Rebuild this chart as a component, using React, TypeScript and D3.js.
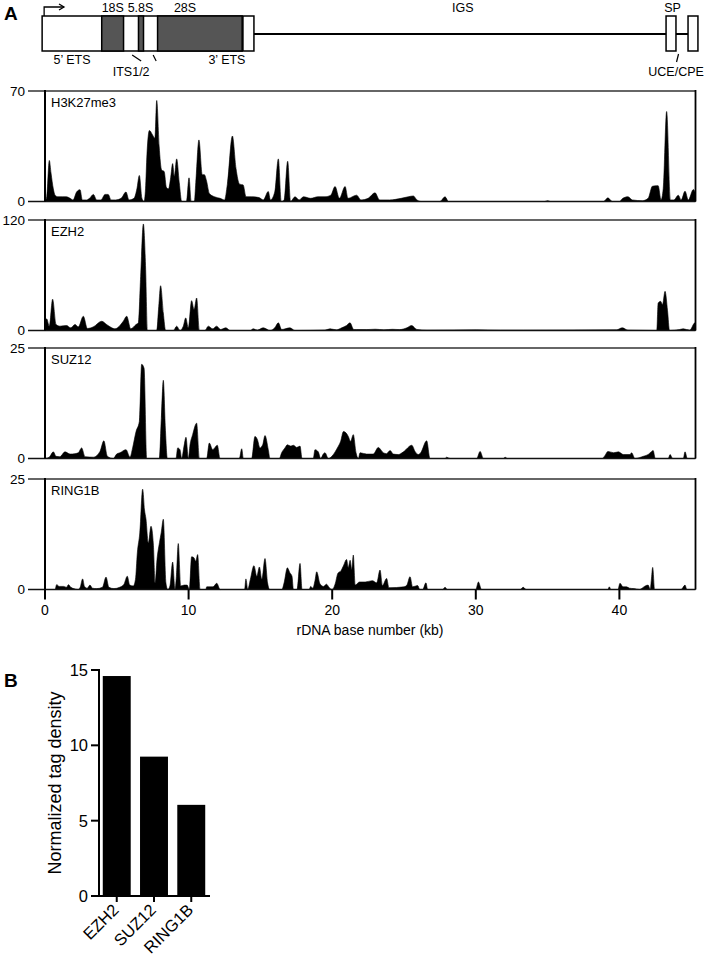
import React from 'react';
import * as d3 from 'd3';

type P = [number, number];

const H3K27ME3_PROFILE: P[] = [[0,0],[0.12,3],[0.3,26],[0.42,18],[0.58,8],[0.7,4],[0.9,3],[1.2,3],[1.5,3],[1.75,2],[1.95,1],[2.2,6],[2.44,7.5],[2.6,1],[2.9,1],[3.1,2],[3.37,4.5],[3.6,1],[3.9,1],[4.18,4.5],[4.4,4.5],[4.6,1],[4.9,1],[5.3,2],[5.64,6],[5.85,1],[6.2,2],[6.4,8],[6.57,16.5],[6.75,2],[6.9,0],[7.0,8],[7.1,30],[7.27,45],[7.5,42],[7.65,40],[7.78,64],[7.95,35],[8.12,20],[8.3,19],[8.45,9],[8.6,8],[8.75,15],[8.89,24],[9.0,16],[9.17,27],[9.35,12],[9.52,0],[9.85,0],[10.03,15],[10.18,0],[10.4,0],[10.5,12],[10.72,39],[10.95,17],[11.1,17],[11.25,13],[11.45,5],[11.8,3],[12.2,2],[12.5,1],[12.7,11],[13.05,41.5],[13.3,21],[13.55,11],[13.8,10.5],[14.0,3],[14.4,3],[14.9,2.5],[15.2,1],[15.55,6.3],[15.7,1],[16.0,6],[16.25,27],[16.45,0],[16.65,1],[16.9,25.5],[17.1,0],[17.41,3],[17.7,1],[18.0,3],[18.5,2],[19.0,3],[19.5,3],[19.9,4],[20.2,9.5],[20.5,2],[20.9,9.5],[21.1,2],[21.7,4],[22.0,1],[22.5,2],[22.98,5.5],[23.3,1],[24.0,1],[24.8,2],[25.3,3],[25.65,3.5],[25.9,1],[26.2,0],[27.5,0],[27.86,3],[28.1,0],[34.8,0],[35.0,0.5],[35.2,0],[38.9,0],[39.2,2.3],[39.5,0],[40.0,0],[40.2,1.8],[40.6,3],[40.9,1],[41.6,0.5],[42.0,2],[42.3,9.7],[42.7,10],[42.9,1],[43.05,8],[43.29,57],[43.55,1],[43.8,1],[44.1,4],[44.3,1],[44.57,6.5],[44.8,1],[45.15,7.6],[45.3,5]];

const EZH2_PROFILE: P[] = [[0,12],[0.12,12.6],[0.3,4.7],[0.53,34],[0.77,6.5],[1.04,4.7],[1.5,5.4],[1.79,2.9],[2.09,6.5],[2.32,4],[2.67,15.5],[2.95,2.2],[3.37,4],[3.95,10],[4.29,6.5],[4.53,4],[4.87,1.8],[5.45,10],[5.69,15.5],[5.97,1.8],[6.34,6.5],[6.5,8.3],[6.66,58.7],[6.85,115.7],[7.01,66],[7.13,0],[7.78,0],[7.92,26],[8.05,48.6],[8.24,19],[8.4,0],[8.94,0],[9.17,4.7],[9.4,0],[9.63,4.7],[9.8,13.7],[9.98,2.9],[10.21,32.4],[10.38,22.7],[10.56,35.3],[10.75,0],[11.14,0],[11.37,4.7],[11.68,1.8],[11.95,4.7],[12.23,1.1],[12.6,2.9],[12.88,0],[14.3,0],[14.5,1.8],[14.8,0.5],[15.2,2.9],[15.67,0],[16.0,2.9],[16.25,8.3],[16.48,1.1],[17.06,2.9],[17.4,0],[19.5,0.5],[19.85,1.8],[20.3,0.7],[20.66,2.9],[21.0,5.4],[21.24,8.3],[21.5,1.1],[21.7,1.1],[22.4,1],[23.0,1.4],[23.6,0.8],[24.2,1.3],[24.7,1],[25.2,2.9],[25.53,5.4],[25.9,1.1],[26.6,0.4],[30.06,0.7],[31.7,0.4],[33.3,0.4],[39.8,0.7],[40.2,2.9],[40.6,0.4],[42.6,0],[42.7,30],[42.87,31.7],[43.0,28],[43.18,42.5],[43.35,22],[43.49,0],[44.2,1.1],[44.45,1.8],[44.9,0.4],[45.26,8.3],[45.3,8]];

const SUZ12_PROFILE: P[] = [[0,0],[0.3,0.3],[0.58,1.5],[0.77,0.5],[1.04,0.4],[1.39,1.5],[1.74,1],[2.09,1.1],[2.32,1.3],[2.55,2.4],[2.79,0.4],[3.37,0.3],[3.83,1.6],[4.1,4],[4.34,0.5],[4.76,0],[4.99,1],[5.22,1.3],[5.64,2],[5.92,0.3],[6.1,2.4],[6.34,6.1],[6.57,8.4],[6.73,21.3],[6.9,20.4],[7.08,0],[7.96,0],[8.1,9.1],[8.24,17.7],[8.38,6.9],[8.52,0],[9.12,0],[9.24,2.4],[9.4,2],[9.52,0],[9.68,2.8],[9.82,4.8],[9.98,0],[10.1,3.1],[10.28,5.4],[10.56,8],[10.75,0],[11.26,0],[11.44,3.5],[11.68,2],[12.0,3],[12.19,0],[13.53,0],[13.7,2.2],[13.81,0],[14.39,0],[14.62,5],[14.79,4.3],[14.97,2.4],[15.16,3.1],[15.32,5.2],[15.55,2],[15.67,0],[16.32,0],[16.48,1.3],[16.71,2.4],[16.88,3.1],[17.11,2.8],[17.29,3],[17.53,2.5],[17.76,2.8],[17.9,0],[18.68,0],[18.8,2],[19.03,1.5],[19.2,0],[19.38,1],[19.5,1.3],[19.73,0],[20.08,0.9],[20.36,2.4],[20.59,3.9],[20.78,6.1],[20.96,5.8],[21.12,5],[21.28,3.9],[21.47,5.4],[21.66,1.3],[21.82,0],[21.94,1.3],[22.4,1],[22.86,1],[23.21,2.5],[23.56,1.3],[23.79,1.1],[24.03,1.8],[24.26,1],[24.61,0.9],[24.96,1.5],[25.54,3],[25.77,1.6],[26.0,0.9],[26.16,1.3],[26.58,4],[26.81,0],[27.86,0],[27.97,0.3],[28.2,0],[30.06,0],[30.3,1.6],[30.53,0],[31.92,0],[32.04,0.3],[32.2,0],[38.8,0],[39.0,0.7],[39.2,1.6],[39.6,1.3],[39.93,1.5],[40.27,0.9],[40.74,0.9],[40.85,1.3],[41.08,0],[41.67,0.5],[42.0,0.9],[42.25,1.6],[42.35,1.8],[42.5,0],[43.4,0],[43.53,0.9],[43.71,0],[44.45,0],[44.57,1.5],[44.73,0],[45.3,0]];

const RING1B_PROFILE: P[] = [[0,0],[0.7,0],[0.81,1.1],[1.0,0.7],[1.3,0.7],[1.5,0.5],[1.63,1.1],[1.8,0.5],[2.0,0.2],[2.3,0],[2.45,0.5],[2.62,2.4],[2.75,0.7],[2.95,0.3],[3.13,1],[3.3,0.3],[3.6,0.2],[4.0,0.5],[4.25,2.8],[4.45,0.5],[4.8,0.2],[5.2,0.5],[5.5,1.2],[5.73,3],[5.9,1],[6.15,0.8],[6.3,2.3],[6.43,8.3],[6.6,12.8],[6.8,22.7],[6.93,18],[7.03,16],[7.2,10.5],[7.38,14.3],[7.55,10],[7.67,1.5],[7.8,6.8],[7.97,10.6],[8.1,13],[8.24,15.9],[8.42,1.5],[8.55,0],[8.7,0.8],[8.89,6.2],[9.05,0],[9.15,3],[9.28,10.4],[9.45,0.8],[9.7,1],[9.9,1],[10.05,0],[10.21,7.4],[10.37,7.2],[10.5,6.4],[10.63,7.9],[10.8,0],[11.2,0],[11.26,0.6],[11.7,0.6],[11.96,1.4],[12.2,0],[13.9,0],[13.99,2.4],[14.12,0],[14.3,2.3],[14.55,5.4],[14.75,3],[14.93,5.1],[15.1,2.3],[15.32,7],[15.5,1.5],[15.65,0],[16.5,0],[16.65,1.5],[16.88,4.9],[17.05,3.8],[17.2,3],[17.3,0],[17.55,0],[17.76,5.9],[17.9,0],[18.4,0],[18.5,0.7],[18.65,0.3],[18.8,2],[18.92,4],[19.15,1.3],[19.4,0.7],[19.6,1.2],[19.8,0.4],[20.0,0],[20.2,1.2],[20.4,3.7],[20.6,4.2],[20.8,5.5],[21.0,6.8],[21.12,5],[21.25,6.6],[21.36,4.5],[21.47,7.8],[21.6,1],[21.9,1.7],[22.3,1.7],[22.8,2],[23.1,1.5],[23.33,4.4],[23.5,0.9],[23.79,2.5],[23.95,0.4],[25.0,0.6],[25.2,1],[25.42,2.9],[25.6,0.6],[25.95,0.9],[26.1,0],[26.3,0],[26.53,1.5],[26.65,0],[27.7,0],[27.86,0.5],[28.0,0],[30.0,0],[30.18,1.7],[30.4,0],[33.1,0],[33.3,0.5],[33.5,0],[39.2,0],[39.3,0.6],[39.4,0],[39.9,0],[40.04,1.4],[40.25,0.6],[40.5,0.6],[40.7,0.3],[41.0,0.2],[41.4,0],[41.8,0.8],[42.0,1],[42.15,0],[42.22,2],[42.32,5],[42.45,0],[44.3,0],[44.57,1],[44.7,0],[45.3,0]];

const TRACK_NAMES = ['H3K27me3', 'EZH2', 'SUZ12', 'RING1B'];
const TRACK_PROFILES = [H3K27ME3_PROFILE, EZH2_PROFILE, SUZ12_PROFILE, RING1B_PROFILE];
const TRACK_MAX = [70, 120, 25, 25];
const X_TICKS = [0, 10, 20, 30, 40];
const X_DOMAIN: [number, number] = [0, 45.3];

const BAR_CATEGORIES = ['EZH2', 'SUZ12', 'RING1B'];
const BAR_VALUES = [14.6, 9.25, 6.05];
const BAR_TICKS = [0, 5, 10, 15];

// rDNA unit features (kb)
const GENE_BOX: [number, number] = [-0.2, 14.55];
const GENE_DARK: [number, number][] = [[3.95, 5.47], [6.51, 6.86], [7.84, 13.73]];
const SP_BOXES: [number, number][] = [[43.25, 43.94], [44.78, 45.47]];
const LABELS_ABOVE: [string, number][] = [['18S', 4.72], ['5.8S', 6.65], ['28S', 9.75], ['IGS', 29.1], ['SP', 43.7]];
const LABELS_BELOW: [string, number][] = [["5\u2019 ETS", 1.88], ["3\u2019 ETS", 12.67]];
const LABELS_LOW: [string, number][] = [['ITS1/2', 6.0], ['UCE/CPE', 43.95]];

const FONT = '"Liberation Sans", Arial, Helvetica, sans-serif';

export default function App() {
  const x = d3.scaleLinear().domain(X_DOMAIN).range([45, 695.5]);
  const panelTops = [91, 220, 348, 479];
  const panelH = 110.5;
  const tickX0 = 28;
  const right = x(X_DOMAIN[1]);

  const gTop = 16, gBot = 51, gMid = 34;

  const by = d3.scaleLinear().domain([0, 15]).range([896, 670]);
  const bx = d3.scaleBand().domain(BAR_CATEGORIES).range([98, 210]).paddingInner(0.25).paddingOuter(0.128);

  return (
    <svg width={714} height={960} style={{ position: 'absolute', left: 0, top: 0, background: '#fff' }} fontFamily={FONT}>
      <rect x={0} y={0} width={714} height={960} fill="#fff" />
      <text x={4} y={20} fontSize={19} fontWeight="bold">A</text>

      <line x1={x(GENE_BOX[1])} x2={x(SP_BOXES[1][0])} y1={gMid} y2={gMid} stroke="#000" strokeWidth={2} />
      <rect x={x(GENE_BOX[0])} y={gTop} width={x(GENE_BOX[1]) - x(GENE_BOX[0])} height={gBot - gTop} fill="#fff" stroke="#000" strokeWidth={1.5} />
      {GENE_DARK.map((d, i) => (
        <rect key={i} x={x(d[0])} y={gTop} width={x(d[1]) - x(d[0])} height={gBot - gTop} fill="#555" stroke="#000" strokeWidth={1.5} />
      ))}
      <line x1={x(GENE_BOX[1]) - 11} x2={x(GENE_BOX[1]) - 11} y1={gTop} y2={gBot} stroke="#000" strokeWidth={1.5} />
      {SP_BOXES.map((d, i) => (
        <rect key={i} x={x(d[0])} y={gTop} width={x(d[1]) - x(d[0])} height={gBot - gTop} fill="#fff" stroke="#000" strokeWidth={1.5} />
      ))}
      <path d={`M${x(GENE_BOX[0]) + 2},${gTop} V7 H64`} fill="none" stroke="#000" strokeWidth={1.3} />
      <path d="M59,4 L64,7 L59,10" fill="none" stroke="#000" strokeWidth={1.3} />
      {LABELS_ABOVE.map(([t, k]) => (
        <text key={t} x={x(k)} y={12} fontSize={12.5} textAnchor="middle">{t}</text>
      ))}
      {LABELS_BELOW.map(([t, k]) => (
        <text key={t} x={x(k)} y={64} fontSize={12.5} textAnchor="middle">{t}</text>
      ))}
      {LABELS_LOW.map(([t, k]) => (
        <text key={t} x={x(k)} y={76} fontSize={12.5} textAnchor="middle">{t}</text>
      ))}
      <line x1={x(6.0) + 1} y1={55} x2={x(6.0) + 10} y2={61} stroke="#000" strokeWidth={1.2} />
      <line x1={x(6.0) + 22} y1={55} x2={x(6.0) + 25} y2={61} stroke="#000" strokeWidth={1.2} />
      <line x1={x(44.05) + 1} y1={54} x2={x(44.05) - 1} y2={62} stroke="#000" strokeWidth={1.2} />

      {TRACK_NAMES.map((name, i) => {
        const top = panelTops[i];
        const bot = top + panelH;
        const y = d3.scaleLinear().domain([0, TRACK_MAX[i]]).range([bot, top]);
        const area = d3.area<P>().x(d => x(d[0])).y0(bot).y1(d => y(d[1])).curve(d3.curveMonotoneX);
        return (
          <g key={name}>
            <path d={area(TRACK_PROFILES[i]) || ''} fill="#000" stroke="#000" strokeWidth={0.6} />
            <line x1={tickX0} x2={right} y1={top} y2={top} stroke="#666" strokeWidth={2} />
            <line x1={tickX0} x2={right} y1={bot} y2={bot} stroke="#111" strokeWidth={1.5} />
            <line x1={x(0)} x2={x(0)} y1={top - 1} y2={bot} stroke="#000" strokeWidth={2} />
            <line x1={right} x2={right} y1={top - 1} y2={bot} stroke="#000" strokeWidth={1.8} />
            <text x={25} y={top + 4.5} fontSize={13.5} textAnchor="end">{TRACK_MAX[i]}</text>
            <text x={25} y={bot + 4.5} fontSize={13.5} textAnchor="end">0</text>
            <text x={51} y={top + 16} fontSize={13}>{name}</text>
          </g>
        );
      })}
      {X_TICKS.map(t => (
        <g key={t}>
          <line x1={x(t)} x2={x(t)} y1={panelTops[3] + panelH} y2={panelTops[3] + panelH + 10} stroke="#000" strokeWidth={2} />
          <text x={x(t)} y={615} fontSize={14} textAnchor="middle">{t}</text>
        </g>
      ))}
      <text x={370} y={635} fontSize={14} textAnchor="middle">rDNA base number (kb)</text>

      <text x={4} y={687} fontSize={19} fontWeight="bold">B</text>
      {BAR_CATEGORIES.map((c, i) => (
        <rect key={c} x={bx(c)} y={by(BAR_VALUES[i])} width={bx.bandwidth()} height={by(0) - by(BAR_VALUES[i])} fill="#000" />
      ))}
      <line x1={99} x2={99} y1={by(15) - 1} y2={by(0)} stroke="#000" strokeWidth={2} />
      <line x1={98} x2={210} y1={by(0)} y2={by(0)} stroke="#000" strokeWidth={2} />
      {BAR_TICKS.map(t => (
        <g key={t}>
          <line x1={91} x2={99} y1={by(t)} y2={by(t)} stroke="#000" strokeWidth={2} />
          <text x={88} y={by(t) + 6} fontSize={16.5} textAnchor="end">{t}</text>
        </g>
      ))}
      {BAR_CATEGORIES.map(c => {
        const cx = (bx(c) || 0) + bx.bandwidth() / 2;
        return (
          <g key={c}>
            <line x1={cx} x2={cx} y1={by(0)} y2={by(0) + 6} stroke="#000" strokeWidth={2} />
            <text transform={`translate(${cx + 3},${by(0) + 15}) rotate(-45)`} fontSize={16.5} textAnchor="end">{c}</text>
          </g>
        );
      })}
      <text transform={`translate(61,783) rotate(-90)`} fontSize={18} textAnchor="middle">Normalized tag density</text>
    </svg>
  );
}
